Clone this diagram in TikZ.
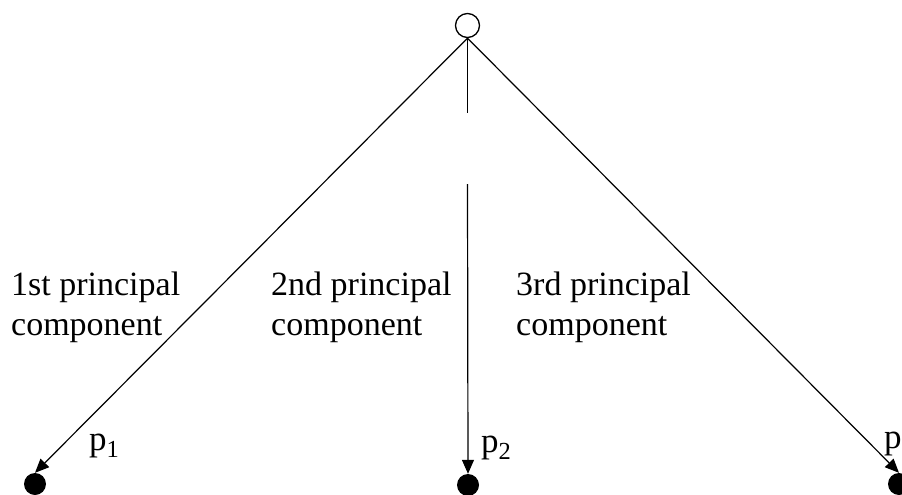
\documentclass[tikz,border=0pt]{standalone}
\usepackage{fontspec}
\setmainfont{Liberation Serif}
\usetikzlibrary{arrows.meta}
\tikzset{
  hollow/.style={circle, draw, line width=1.3pt, minimum size=24pt, inner sep=0pt},
  solid/.style={circle, fill=black, minimum size=22pt, inner sep=0pt},
  lbl/.style={anchor=base west, inner sep=0pt, font=\fontsize{34}{40}\selectfont},
  plbl/.style={anchor=base west, inner sep=0pt, font=\fontsize{35}{40}\selectfont},
  conn/.style={line width=1.2pt},
  arr/.style={conn, -{Triangle[length=14pt,width=12pt]}}
}
\begin{document}
\begin{tikzpicture}[x=1pt,y=-1pt]
\useasboundingbox (0,0) rectangle (902,495);
\node[hollow] (top) at (467.5,25.5) {};
\node[solid] (d1) at (35,484) {};
\node[solid] (d2) at (468,485) {};
\node[solid] (d3) at (899,484) {};
\coordinate (gapA) at (467.5,113);
\coordinate (gapB) at (467.5,184);
\draw[arr] (top.south) -- (d1.north);
\draw[arr] (top.south) -- (d3.north);
\draw[conn] (top.south) -- (gapA);
\draw[arr] (gapB) -- (d2.north);
\node[lbl] (t1a) at (11,295) {1st principal};
\node[lbl] (t1b) at (11,335) {component};
\node[lbl] (t2a) at (271,295) {2nd principal};
\node[lbl] (t2b) at (271,335) {component};
\node[lbl] (t3a) at (516,295) {3rd principal};
\node[lbl] (t3b) at (516,335) {component};
\node[plbl] (p1) at (89,450) {p\textsubscript{1}};
\node[plbl] (p2) at (481,452) {p\textsubscript{2}};
\node[plbl] (p3) at (884,448) {p\textsubscript{3}};
\end{tikzpicture}
\end{document}
